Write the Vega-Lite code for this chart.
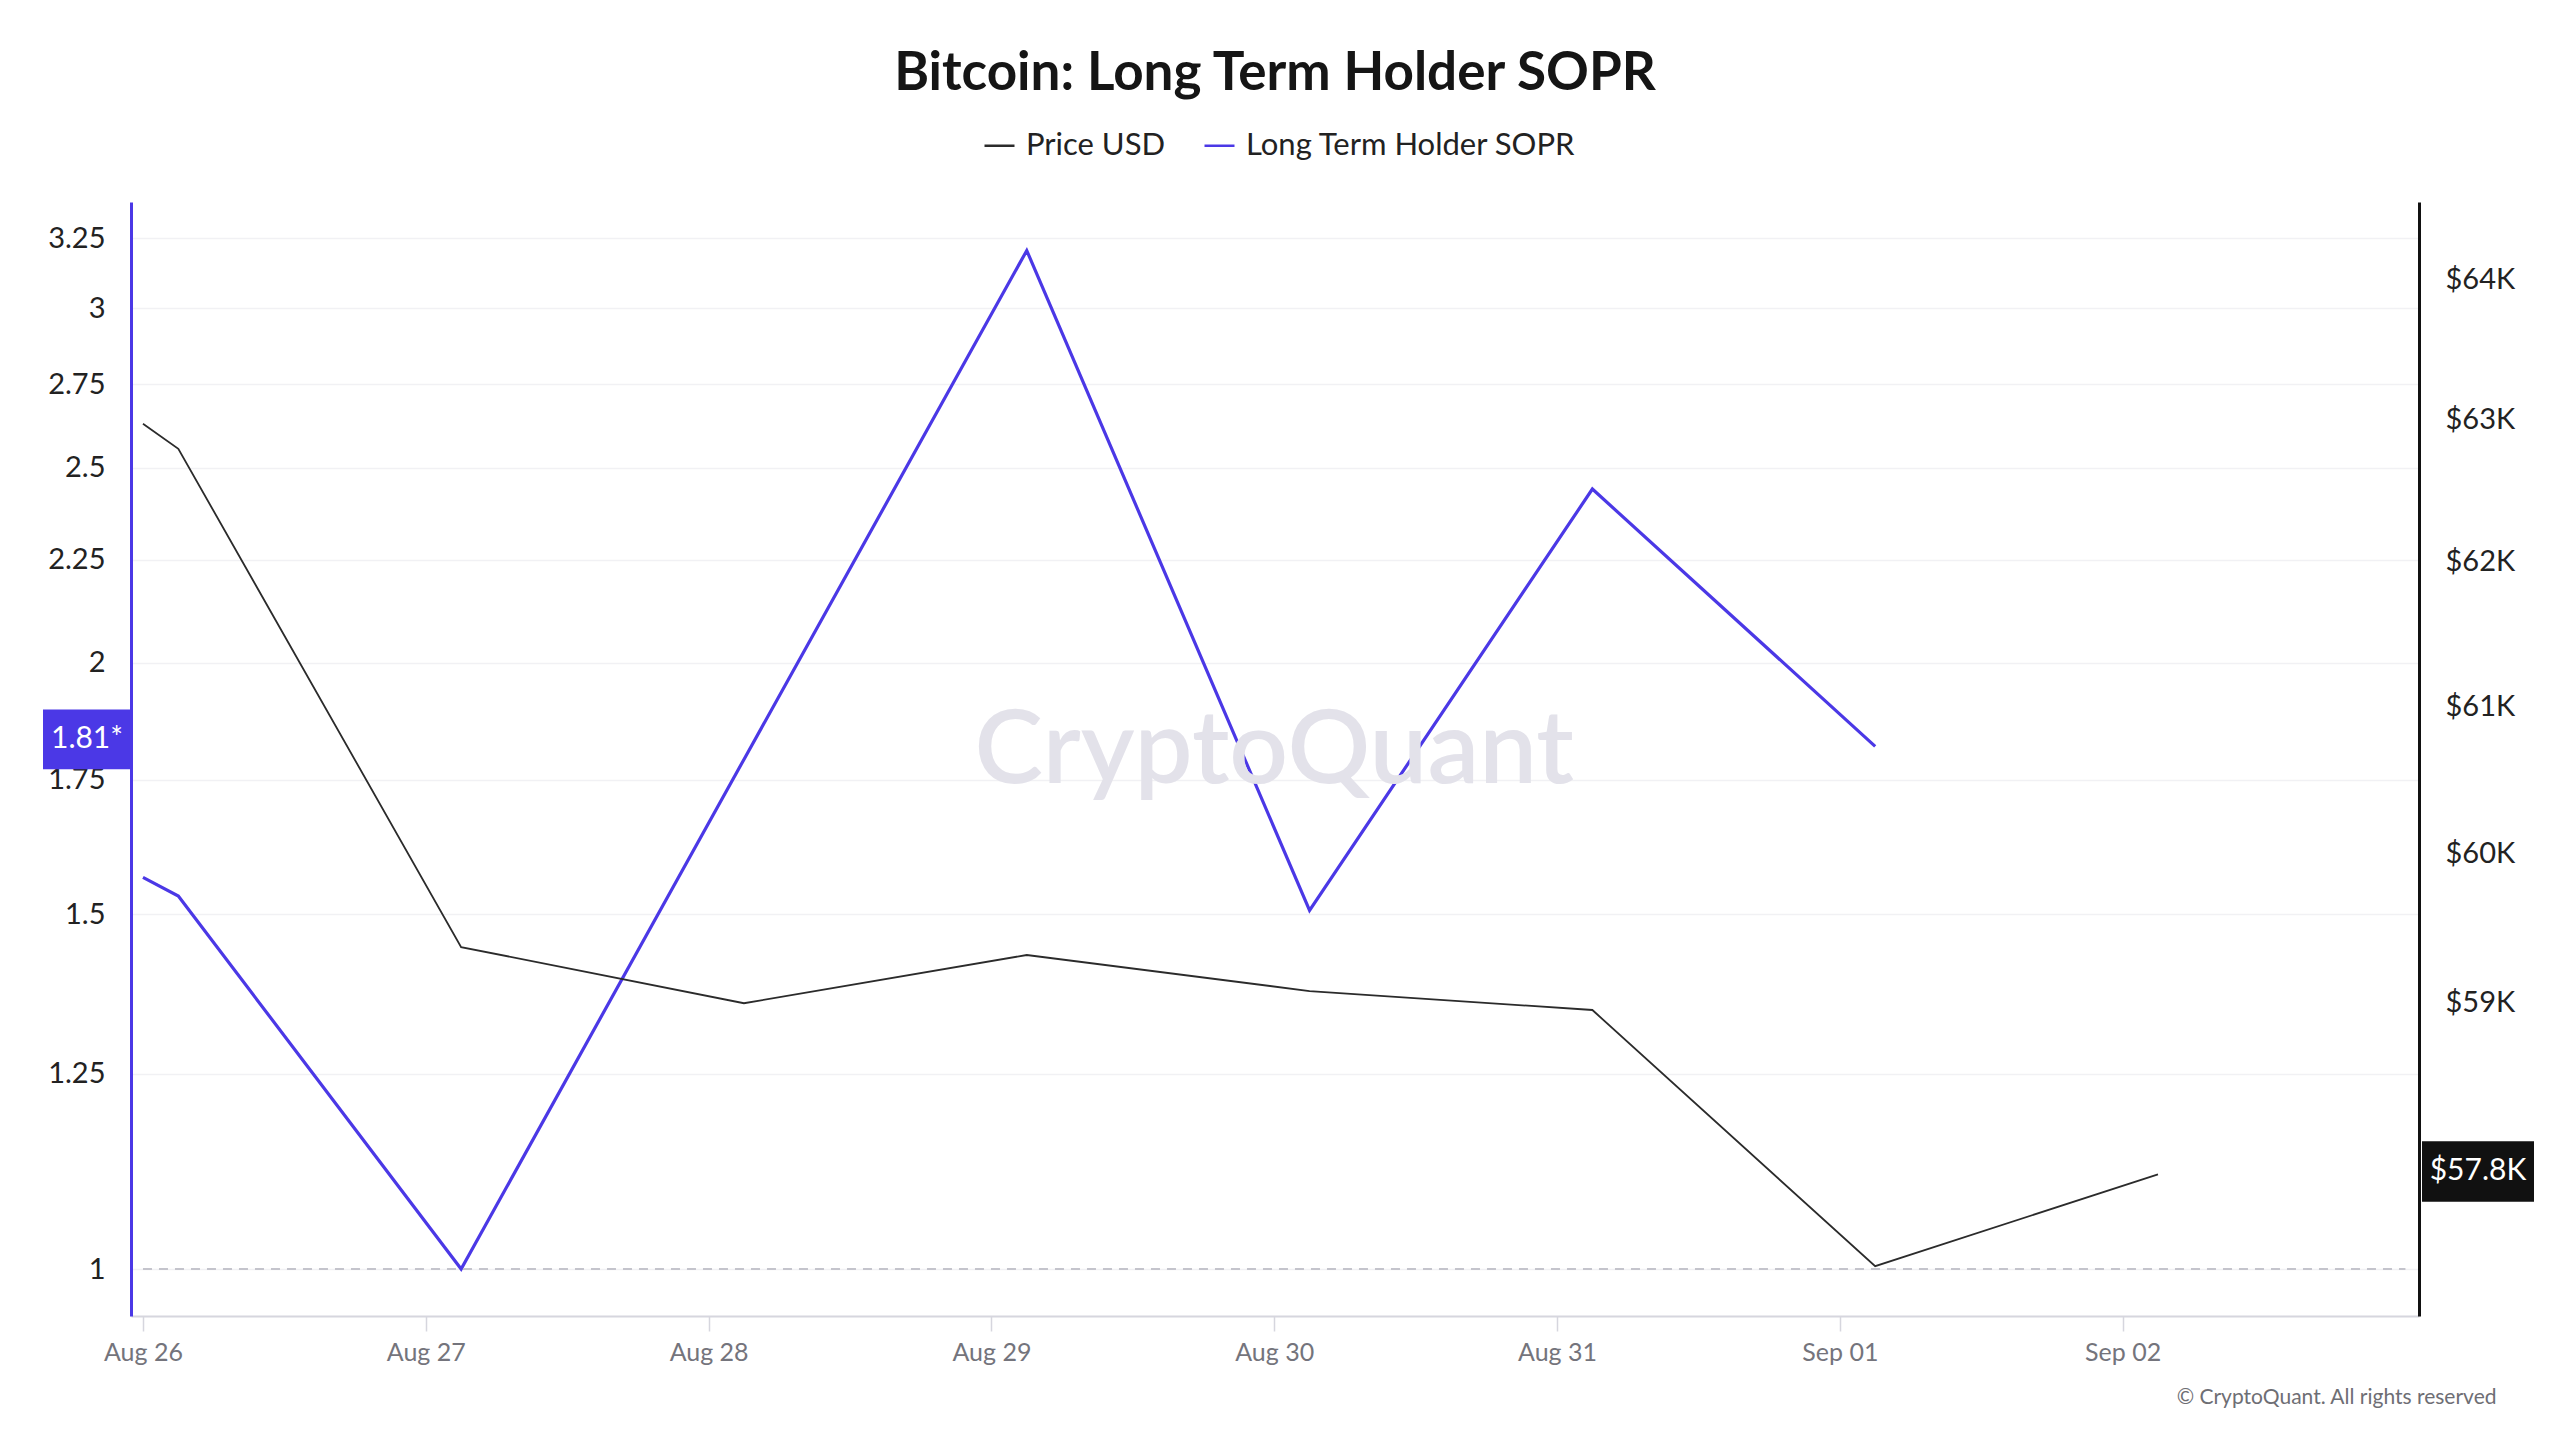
{
  "$schema": "https://vega.github.io/schema/vega-lite/v6.json",
  "width": 2288,
  "height": 1114,
  "autosize": {"type": "none"},
  "padding": {"left": 131, "top": 202, "right": 141, "bottom": 124},
  "background": "#ffffff",
  "title": {
    "text": "Bitcoin: Long Term Holder SOPR",
    "anchor": "middle",
    "frame": "group",
    "baseline": "alphabetic",
    "offset": 37,
    "dy": 51,
    "font": "Lato",
    "fontSize": 53,
    "fontWeight": "bold",
    "color": "#151515"
  },
  "data": {
    "values": [
      {"date": "2024-08-26T00:00:00", "price": 62973, "sopr": 1.565},
      {"date": "2024-08-26T03:00:00", "price": 62795, "sopr": 1.532},
      {"date": "2024-08-27T03:00:00", "price": 59370, "sopr": 1.0},
      {"date": "2024-08-28T03:00:00", "price": 58996, "sopr": 1.791},
      {"date": "2024-08-29T03:00:00", "price": 59317, "sopr": 3.205},
      {"date": "2024-08-30T03:00:00", "price": 59077, "sopr": 1.507},
      {"date": "2024-08-31T03:00:00", "price": 58951, "sopr": 2.44},
      {"date": "2024-09-01T03:00:00", "price": 57275, "sopr": 1.818},
      {"date": "2024-09-02T03:00:00", "price": 57870, "sopr": null}
    ]
  },
  "layer": [
    {
      "mark": {"type": "line", "strokeWidth": 3.2},
      "encoding": {
        "x": {
          "field": "date",
          "type": "temporal",
          "scale": {"domain": [{"year": 2024, "month": "aug", "date": 25, "hours": 22, "minutes": 59}, {"year": 2024, "month": "sep", "date": 3, "hours": 1, "minutes": 9}]},
          "axis": {
            "values": [
              {"year": 2024, "month": "aug", "date": 26},
              {"year": 2024, "month": "aug", "date": 27},
              {"year": 2024, "month": "aug", "date": 28},
              {"year": 2024, "month": "aug", "date": 29},
              {"year": 2024, "month": "aug", "date": 30},
              {"year": 2024, "month": "aug", "date": 31},
              {"year": 2024, "month": "sep", "date": 1},
              {"year": 2024, "month": "sep", "date": 2}
            ],
            "format": "%b %d",
            "grid": false,
            "labelFlush": false,
            "labelFont": "Lato",
            "labelFontSize": 25,
            "labelColor": "#74747c",
            "labelPadding": 9,
            "tickColor": "#d6d6de",
            "tickSize": 15,
            "tickWidth": 1.5,
            "domainColor": "#d6d6de",
            "domainWidth": 2,
            "title": "© CryptoQuant. All rights reserved",
            "titleFont": "Lato",
            "titleFontSize": 21,
            "titleFontWeight": "normal",
            "titleColor": "#6e6e74",
            "titleAlign": "right",
            "titleBaseline": "alphabetic",
            "titleX": 2365,
            "titleY": 87
          }
        },
        "y": {
          "field": "sopr",
          "type": "quantitative",
          "scale": {"type": "log", "domain": [0.9477, 3.388], "nice": false},
          "axis": {
            "orient": "left",
            "title": null,
            "values": [1, 1.25, 1.5, 1.75, 2, 2.25, 2.5, 2.75, 3, 3.25],
            "format": "~g",
            "ticks": false,
            "domainColor": "#4b38e6",
            "domainWidth": 3,
            "labelFont": "Lato",
            "labelFontSize": 29,
            "labelColor": "#222222",
            "labelPadding": 26,
            "grid": true,
            "gridColor": "#f1f1f4",
            "gridWidth": 1.5,
            "zindex": 0
          }
        },
        "color": {
          "datum": "Long Term Holder SOPR",
          "type": "nominal",
          "scale": {"domain": ["Price USD", "Long Term Holder SOPR"], "range": ["#2b2b2b", "#4b38e6"]},
          "legend": {
            "orient": "none",
            "legendX": 852,
            "legendY": -73,
            "direction": "horizontal",
            "title": null,
            "symbolType": "stroke",
            "symbolSize": 900,
            "symbolStrokeWidth": 2.5,
            "labelFont": "Lato",
            "labelFontSize": 31,
            "labelColor": "#222222",
            "labelOffset": 10,
            "labelLimit": 800,
            "columnPadding": 33,
            "padding": 0
          }
        }
      }
    },
    {
      "mark": {"type": "line", "strokeWidth": 1.8},
      "encoding": {
        "x": {"field": "date", "type": "temporal"},
        "y": {
          "field": "price",
          "type": "quantitative",
          "scale": {"type": "log", "domain": [56955, 64564], "nice": false},
          "axis": {
            "orient": "right",
            "title": null,
            "values": [59000, 60000, 61000, 62000, 63000, 64000],
            "labelExpr": "'$' + format(datum.value / 1000, '~g') + 'K'",
            "ticks": false,
            "grid": false,
            "domainColor": "#111111",
            "domainWidth": 3,
            "labelFont": "Lato",
            "labelFontSize": 29,
            "labelColor": "#222222",
            "labelPadding": 26
          }
        },
        "color": {
          "datum": "Price USD",
          "type": "nominal",
          "scale": {"domain": ["Price USD", "Long Term Holder SOPR"], "range": ["#2b2b2b", "#4b38e6"]}
        }
      }
    },
    {
      "data": {"values": [{"label": "CryptoQuant"}]},
      "mark": {"type": "text", "align": "center", "baseline": "alphabetic", "font": "Lato", "fontSize": 103, "fontWeight": 600, "color": "#e3e2ea"},
      "encoding": {
        "x": {"datum": {"year": 2024, "month": "aug", "date": 30, "hours": 0}, "type": "temporal"},
        "y": {"datum": 1.743, "type": "quantitative", "scale": {"type": "log", "domain": [0.9477, 3.388], "nice": false}, "axis": null},
        "text": {"field": "label", "type": "nominal"}
      }
    },
    {
      "data": {"values": [{"start": "2024-08-26T00:00:00", "end": "2024-09-03T00:00:00", "level": 1}]},
      "mark": {"type": "rule", "color": "#c4c4cc", "strokeWidth": 2, "strokeDash": [9, 7]},
      "encoding": {
        "x": {"field": "start", "type": "temporal"},
        "x2": {"field": "end"},
        "y": {"field": "level", "type": "quantitative", "scale": {"type": "log", "domain": [0.9477, 3.388], "nice": false}, "axis": null}
      }
    },
    {
      "transform": [
        {"filter": "isValid(datum.sopr)"},
        {"window": [{"op": "row_number", "as": "rn"}], "sort": [{"field": "date", "order": "descending"}]},
        {"filter": "datum.rn == 1"}
      ],
      "mark": {"type": "point", "shape": "M-1,-0.68H1V0.68H-1Z", "size": 7744, "filled": true, "opacity": 1, "color": "#4b38e6", "strokeWidth": 0, "xOffset": -44, "yOffset": -7},
      "encoding": {
        "x": {"datum": {"year": 2024, "month": "aug", "date": 25, "hours": 22, "minutes": 59}, "type": "temporal"},
        "y": {"field": "sopr", "type": "quantitative", "scale": {"type": "log", "domain": [0.9477, 3.388], "nice": false}, "axis": null}
      }
    },
    {
      "transform": [
        {"filter": "isValid(datum.sopr)"},
        {"window": [{"op": "row_number", "as": "rn"}], "sort": [{"field": "date", "order": "descending"}]},
        {"filter": "datum.rn == 1"}
      ],
      "mark": {"type": "text", "text": {"expr": "format(floor(datum.sopr * 100) / 100, '.2f') + '*'"}, "align": "center", "baseline": "middle", "dx": -44, "dy": -7, "font": "Lato", "fontSize": 30, "color": "#ffffff"},
      "encoding": {
        "x": {"datum": {"year": 2024, "month": "aug", "date": 25, "hours": 22, "minutes": 59}, "type": "temporal"},
        "y": {"field": "sopr", "type": "quantitative", "scale": {"type": "log", "domain": [0.9477, 3.388], "nice": false}, "axis": null}
      }
    },
    {
      "transform": [
        {"filter": "isValid(datum.price)"},
        {"window": [{"op": "row_number", "as": "rn"}], "sort": [{"field": "date", "order": "descending"}]},
        {"filter": "datum.rn == 1"}
      ],
      "mark": {"type": "point", "shape": "M-1,-0.54H1V0.54H-1Z", "size": 12544, "filled": true, "opacity": 1, "color": "#111111", "strokeWidth": 0, "xOffset": 59, "yOffset": -3},
      "encoding": {
        "x": {"datum": {"year": 2024, "month": "sep", "date": 3, "hours": 1, "minutes": 9}, "type": "temporal"},
        "y": {"field": "price", "type": "quantitative", "scale": {"type": "log", "domain": [56955, 64564], "nice": false}, "axis": null}
      }
    },
    {
      "transform": [
        {"filter": "isValid(datum.price)"},
        {"window": [{"op": "row_number", "as": "rn"}], "sort": [{"field": "date", "order": "descending"}]},
        {"filter": "datum.rn == 1"}
      ],
      "mark": {"type": "text", "text": {"expr": "'$' + format(floor(datum.price / 100) / 10, '.1f') + 'K'"}, "align": "center", "baseline": "middle", "dx": 59, "dy": -3, "font": "Lato", "fontSize": 30, "color": "#ffffff"},
      "encoding": {
        "x": {"datum": {"year": 2024, "month": "sep", "date": 3, "hours": 1, "minutes": 9}, "type": "temporal"},
        "y": {"field": "price", "type": "quantitative", "scale": {"type": "log", "domain": [56955, 64564], "nice": false}, "axis": null}
      }
    }
  ],
  "resolve": {"scale": {"y": "independent"}},
  "config": {
    "font": "Lato",
    "view": {"stroke": null}
  }
}
